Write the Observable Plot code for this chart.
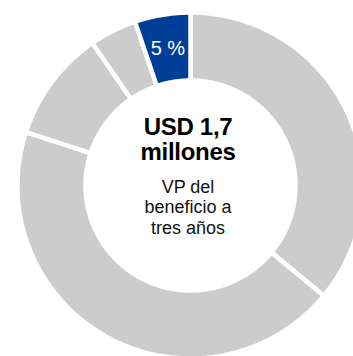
<!DOCTYPE html>
<html>
<head>
<meta charset="utf-8">
<script src="https://cdn.jsdelivr.net/npm/d3@7"></script>
<script src="https://cdn.jsdelivr.net/npm/@observablehq/plot@0.6"></script>
<style>
  html, body { margin: 0; padding: 0; background: #fff; }
  #chart svg { display: block; }
  #chart g[font-weight="bold"] text { letter-spacing: -0.3px; }
</style>
</head>
<body>
<div id="chart"></div>
<script>
// Slices, clockwise from 12 o'clock (share of total, %)
const sliceNames = ["a", "b", "c", "d", "e"];
const sliceValues = [36, 44, 10.4, 4.4, 5.2];
const sliceColors = ["#cccccc", "#cccccc", "#cccccc", "#cccccc", "#003f98"];
const sliceLabels = ["", "", "", "", "5 %"];

const titleLines = ["USD 1,7", "millones"];
const subtitleLines = ["VP del", "beneficio a", "tres años"];

// layout (pixels)
const W = 353, H = 356, CX = 190, CY = 185;
const R_OUT = 173, R_IN = 105;

const total = d3.sum(sliceValues);
let acc = 0;
const polys = [];
const labels = [];
sliceValues.forEach((v, i) => {
  const a0 = acc / total * 2 * Math.PI;
  acc += v;
  const a1 = acc / total * 2 * Math.PI;
  const n = Math.max(4, Math.ceil((a1 - a0) / 0.01));
  for (let k = 0; k <= n; k++) {
    const a = a0 + (a1 - a0) * k / n;
    polys.push({slice: sliceNames[i], color: sliceColors[i], x: R_OUT * Math.sin(a), y: R_OUT * Math.cos(a)});
  }
  for (let k = n; k >= 0; k--) {
    const a = a0 + (a1 - a0) * k / n;
    polys.push({slice: sliceNames[i], color: sliceColors[i], x: R_IN * Math.sin(a), y: R_IN * Math.cos(a)});
  }
  const am = (a0 + a1) / 2, rm = (R_OUT + R_IN) / 2;
  labels.push({text: sliceLabels[i], x: rm * Math.sin(am), y: rm * Math.cos(am)});
});

const font = "'Liberation Sans', Arial, Helvetica, sans-serif";
const center = [{x: 0, y: 0}];

const chart = Plot.plot({
  width: W,
  height: H,
  margin: 0,
  x: {domain: [-CX, W - CX], axis: null},
  y: {domain: [-(H - CY), CY], axis: null},
  color: {type: "identity"},
  style: {fontFamily: font, background: "#fff"},
  marks: [
    Plot.line(polys, {x: "x", y: "y", z: "slice", fill: "color", stroke: "#fff", strokeWidth: 4.5, curve: "linear-closed", strokeLinejoin: "miter"}),
    Plot.text(labels.filter(d => d.text), {x: "x", y: "y", text: "text", fill: "#fff", fontSize: 20, fontFamily: font}),
    ...titleLines.map((t, i) => Plot.text(center, {x: "x", y: "y", text: () => t, fontSize: 24, fontWeight: "bold", fill: "#000", dx: -2.5, dy: -57.7 + i * 25, fontFamily: font})),
    ...subtitleLines.map((t, i) => Plot.text(center, {x: "x", y: "y", text: () => t, fontSize: 18, fill: "#111", dx: -2.5, dy: 1.5 + i * 20.5, fontFamily: font}))
  ]
});
document.getElementById("chart").append(chart);
</script>
</body>
</html>
